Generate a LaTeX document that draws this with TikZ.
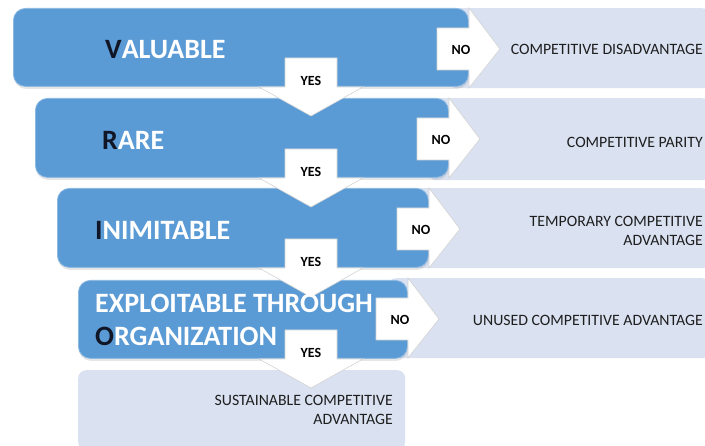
\documentclass[tikz,border=0pt]{standalone}
\usepackage{xcolor}
\usepackage{fontspec}
\setmainfont{Carlito}
\usetikzlibrary{shadows}

\definecolor{stageblue}{RGB}{91,155,213}
\definecolor{paleblue}{RGB}{218,226,242}
\definecolor{initial}{RGB}{16,22,38}
\definecolor{outcome}{RGB}{30,30,30}

\tikzset{
  stage/.style={fill=stageblue, draw=stageblue!70!white, line width=0.8pt,
    rounded corners=12pt, anchor=north west, inner sep=0pt,
    drop shadow={shadow xshift=0.5pt, shadow yshift=-2.5pt, opacity=0.2}},
  result/.style={fill=paleblue, rounded corners=8pt, anchor=north west, inner sep=0pt},
  stagetext/.style={text=white, anchor=west, align=left, inner sep=0pt,
    font=\fontsize{28}{33}\selectfont\bfseries},
  outcometext/.style={text=outcome, anchor=east, align=right, inner sep=0pt,
    font=\fontsize{15.8}{18.5}\selectfont},
  blockarrow/.style={fill=white, draw=gray!35, line width=0.6pt},
  answer/.style={text=black, inner sep=0pt, font=\fontsize{14}{16}\selectfont\bfseries},
}

\begin{document}
\begin{tikzpicture}[x=1pt,y=-1pt]
\useasboundingbox (0,0) rectangle (705,446);

% outcome strips on the right
\node[result, minimum width=262, minimum height=80] (disadv) at (448,8) {};
\node[result, minimum width=282, minimum height=82] (parity) at (428,98) {};
\node[result, minimum width=302, minimum height=80] (temporary) at (408,188) {};
\node[result, minimum width=322, minimum height=80] (unused) at (388,278) {};

% the four questions
\node[stage, minimum width=455, minimum height=78] (valuable) at (13,8) {};
\node[stage, minimum width=413, minimum height=79] (rare) at (35,98) {};
\node[stage, minimum width=371, minimum height=79] (inimitable) at (57,188) {};
\node[stage, minimum width=329, minimum height=78] (exploitable) at (78,280) {};
\node[result, minimum width=327, minimum height=80] (sustainable) at (78,370) {};

% NO arrows to the right
\foreach \r/\m [count=\i] in {468/49, 448/139, 428/229, 407/319} {
  \draw[blockarrow] (\r-31,\m-21) -- (\r+1,\m-21) -- (\r+1,\m-41) -- (\r+32,\m)
    -- (\r+1,\m+39) -- (\r+1,\m+21) -- (\r-31,\m+21) -- cycle;
  \node[answer] (no\i) at (\r-7,\m+1) {NO};
}

% YES arrows downwards
\foreach \b [count=\i] in {86, 177, 267, 358} {
  \draw[blockarrow] (285,\b-28) -- (337,\b-28) -- (337,\b+1) -- (363,\b+1)
    -- (311,\b+30) -- (259,\b+1) -- (285,\b+1) -- cycle;
  \node[answer] (yes\i) at (311,\b-5) {YES};
}

% question labels
\node[stagetext] (valtext) at (105,50) {{\color{initial}V}ALUABLE};
\node[stagetext] (raretext) at (102,140) {{\color{initial}R}ARE};
\node[stagetext] (imitext) at (95,230) {{\color{initial}I}NIMITABLE};
\node[stagetext] (exptext) at (95,320) {EXPLOITABLE THROUGH\\{\color{initial}O}RGANIZATION};

% outcome labels
\node[outcometext] (disadvtext) at (703,49) {COMPETITIVE DISADVANTAGE};
\node[outcometext] (paritytext) at (703,142) {COMPETITIVE PARITY};
\node[outcometext] (temptext) at (703,231) {TEMPORARY COMPETITIVE\\ADVANTAGE};
\node[outcometext] (unusedtext) at (703,320) {UNUSED COMPETITIVE ADVANTAGE};
\node[outcometext] (sustext) at (393,410) {SUSTAINABLE COMPETITIVE\\ADVANTAGE};
\end{tikzpicture}
\end{document}
